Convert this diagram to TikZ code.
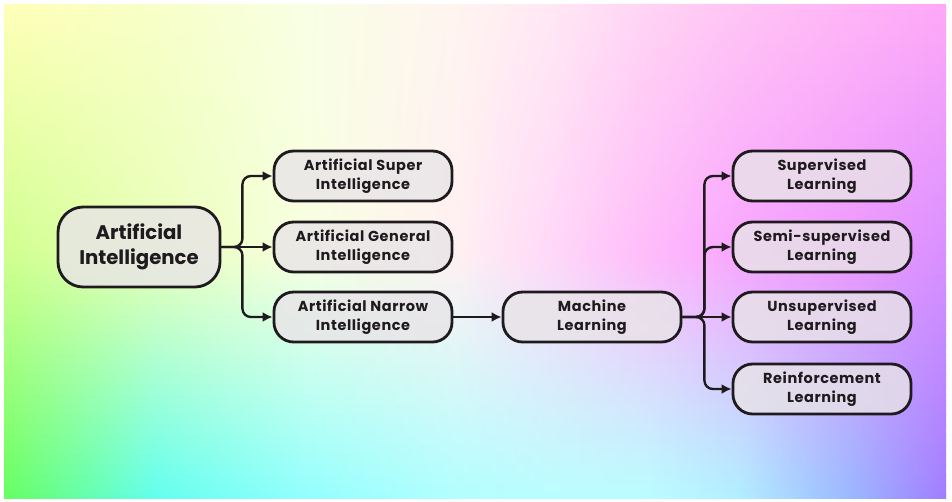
\documentclass[tikz,border=0pt]{standalone}
\usepackage{fontspec}
\setmainfont{Poppins}
\usetikzlibrary{arrows.meta}

\definecolor{edge}{HTML}{1E1A1E}
\definecolor{boxfill}{HTML}{E8E4E7}
% background: colours along the top (t), middle (m) and bottom (b) rows
\definecolor{tA}{HTML}{FFFFB8}\definecolor{mA}{HTML}{D0FF90}\definecolor{bA}{HTML}{64FF60}
\definecolor{tB}{HTML}{F8FFC8}\definecolor{mB}{HTML}{E8FFB8}\definecolor{bB}{HTML}{60FFF0}
\definecolor{tC}{HTML}{F8FFE4}\definecolor{mC}{HTML}{F8FFE0}\definecolor{bC}{HTML}{90FFFF}
\definecolor{tD}{HTML}{FFF4F0}\definecolor{mD}{HTML}{FFF0F2}\definecolor{bD}{HTML}{B0FFFF}
\definecolor{tE}{HTML}{FFE8F4}\definecolor{mE}{HTML}{FFD8F8}\definecolor{bE}{HTML}{B8FFFF}
\definecolor{tF}{HTML}{FFD4F4}\definecolor{mF}{HTML}{FFBCFA}\definecolor{bF}{HTML}{B8FFFF}
\definecolor{tG}{HTML}{FFC4F4}\definecolor{mG}{HTML}{F8A6FF}\definecolor{bG}{HTML}{B0F0FF}
\definecolor{tH}{HTML}{FFB4F6}\definecolor{mH}{HTML}{EE98FF}\definecolor{bH}{HTML}{98B8FF}
\definecolor{tI}{HTML}{FFA8F8}\definecolor{mI}{HTML}{D890FF}\definecolor{bI}{HTML}{A07CFF}
\newcommand\bgmix[1]{\rb#1!\p!\ra#1}

\tikzset{
  box/.style={draw=edge, line width=2pt, fill=boxfill, fill opacity=0.8, text opacity=1,
    rounded corners=14pt, minimum width=4.45cm, minimum height=1.25cm, align=center,
    text=edge, font=\bfseries\addfontfeatures{LetterSpace=4}\fontsize{10.3}{13.5}\selectfont},
  rootbox/.style={box, minimum width=4.05cm, minimum height=2cm, rounded corners=18pt,
    font=\bfseries\fontsize{14}{18}\selectfont},
  link/.style={draw=edge, line width=1.7pt, rounded corners=6pt, -{Latex[length=7pt,width=7pt]}}
}

\begin{document}
\begin{tikzpicture}[x=0.025cm, y=-0.025cm]
  \useasboundingbox (0,0) rectangle (952,501);
  % \draw[help lines, step=50] (0,0) grid (952,501);
  \fill[white] (0,0) rectangle (952,501);
  \begin{scope}
    \clip (4,4) rectangle (946,498);
    \foreach \i in {0,...,49}{
      \ifnum\i<25
        \def\ra{t}\def\rb{m}\pgfmathtruncatemacro{\p}{100*(\i+0.5)/25}
      \else
        \def\ra{m}\def\rb{b}\pgfmathtruncatemacro{\p}{100*(\i-24.5)/25}
      \fi
      \pgfdeclarehorizontalshading{strip\i}{100bp}{color(0bp)=(\bgmix{A}); color(25bp)=(\bgmix{A});
        color(33bp)=(\bgmix{B}); color(41bp)=(\bgmix{C}); color(49bp)=(\bgmix{D});
        color(54bp)=(\bgmix{E}); color(59bp)=(\bgmix{F}); color(64bp)=(\bgmix{G});
        color(70bp)=(\bgmix{H}); color(75bp)=(\bgmix{I}); color(100bp)=(\bgmix{I})}
      \fill[shading=strip\i] (4,{4+10*\i}) rectangle (946,{15+10*\i});
    }
  \end{scope}

  \node[rootbox] (ai) at (139,247) {Artificial\\Intelligence};
  \node[box] (asi) at (363,176) {Artificial Super\\Intelligence};
  \node[box] (agi) at (363,247) {Artificial General\\Intelligence};
  \node[box] (ani) at (363,317) {Artificial Narrow\\Intelligence};
  \node[box] (ml) at (592,317) {Machine\\Learning};
  \node[box] (sup) at (822,176) {Supervised\\Learning};
  \node[box] (semi) at (822,247) {Semi-supervised\\Learning};
  \node[box] (unsup) at (822,317) {Unsupervised\\Learning};
  \node[box] (rein) at (822,389) {Reinforcement\\Learning};

  \draw[link] (ai.east) -- ++(21,0) |- (asi.west);
  \draw[link] (ai.east) -- (agi.west);
  \draw[link] (ai.east) -- ++(21,0) |- (ani.west);
  \draw[link] (ani.east) -- (ml.west);
  \draw[link] (ml.east) -- ++(22,0) |- (sup.west);
  \draw[link] (ml.east) -- ++(22,0) |- (semi.west);
  \draw[link] (ml.east) -- (unsup.west);
  \draw[link] (ml.east) -- ++(22,0) |- (rein.west);
\end{tikzpicture}
\end{document}
